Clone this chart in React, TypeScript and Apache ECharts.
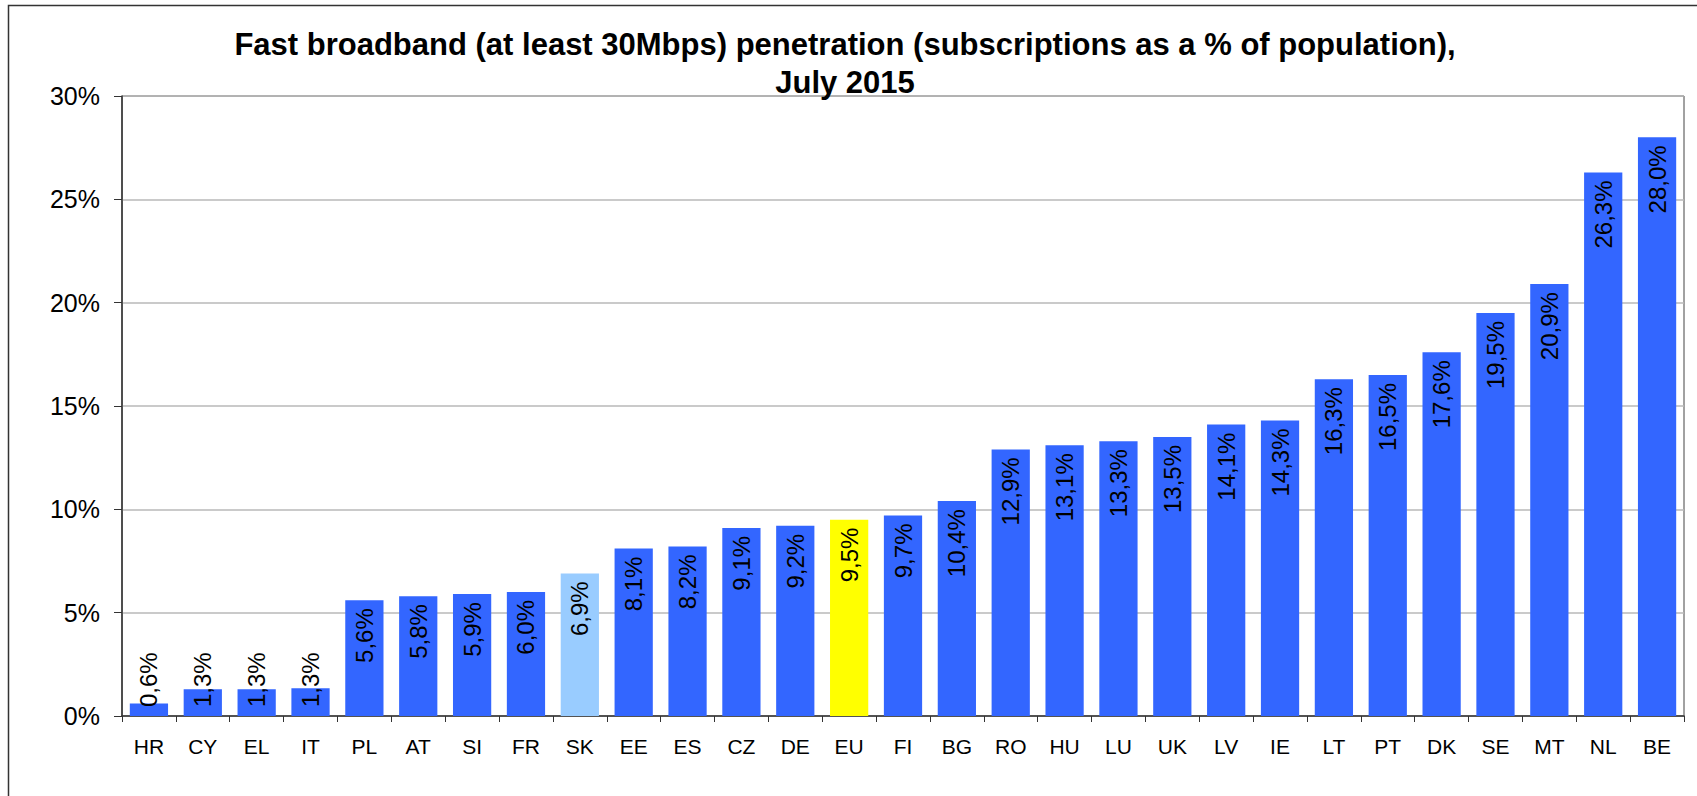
import React, { useEffect, useRef } from "react";
import * as echarts from "echarts";

const categories = ["HR","CY","EL","IT","PL","AT","SI","FR","SK","EE","ES","CZ","DE","EU","FI","BG","RO","HU","LU","UK","LV","IE","LT","PT","DK","SE","MT","NL","BE"];
const values = [0.6,1.3,1.3,1.34,5.6,5.8,5.9,6.0,6.9,8.1,8.2,9.1,9.2,9.5,9.7,10.4,12.9,13.1,13.3,13.5,14.1,14.3,16.3,16.5,17.6,19.5,20.9,26.3,28.0];
const yTicks = [0, 5, 10, 15, 20, 25, 30];
const titleLines = ["Fast broadband (at least 30Mbps) penetration (subscriptions as a % of population),", "July 2015"];

const BLUE = "#3366FF";
const highlight: Record<string, string> = { EU: "#FFFF00", SK: "#99CCFF" };
const smallBars = ["HR", "CY", "EL", "IT"];

export default function App() {
  const ref = useRef<HTMLDivElement>(null);
  useEffect(() => {
    if (!ref.current) return;
    const chart = echarts.init(ref.current, undefined, { renderer: "svg" });
    const font = "'Liberation Sans', Arial, sans-serif";
    const data = categories.map((c, i) => {
      const small = smallBars.includes(c);
      return {
        value: values[i],
        itemStyle: { color: highlight[c] || BLUE },
        label: small
          ? { position: "insideBottom", align: "left", distance: 9 }
          : { position: "insideTop", align: "right", distance: 8 },
      };
    });
    chart.setOption({
      animation: false,
      backgroundColor: "#fff",
      title: {
        text: titleLines.join("\n"),
        left: 845,
        top: 25,
        textAlign: "center",
        padding: 0,
        textStyle: { fontFamily: font, fontSize: 31, fontWeight: "bold", color: "#000", lineHeight: 38 },
      },
      graphic: [
        {
          type: "rect",
          shape: { x: 8.5, y: 5.5, width: 1720, height: 820 },
          style: { fill: "none", stroke: "#333", lineWidth: 1.5 },
          silent: true,
        },
      ],
      grid: {
        left: 122,
        right: 13,
        top: 96,
        bottom: 80,
        show: true,
        borderColor: "#444",
        borderWidth: 1,
        backgroundColor: "transparent",
      },
      xAxis: {
        type: "category",
        data: categories,
        axisLine: { lineStyle: { color: "#333", width: 1.5 } },
        axisTick: { show: true, length: 6, lineStyle: { color: "#333" } },
        axisLabel: { fontFamily: font, fontSize: 21, color: "#000", margin: 20 },
      },
      yAxis: {
        type: "value",
        min: 0,
        max: 30,
        interval: 5,
        axisLine: { show: true, lineStyle: { color: "#333", width: 1.5 } },
        axisTick: { show: true, length: 8, lineStyle: { color: "#333" } },
        splitLine: { lineStyle: { color: "#B8B8B8", width: 1.5 } },
        axisLabel: {
          fontFamily: font,
          fontSize: 25,
          color: "#000",
          margin: 22,
          formatter: (v: number) => (yTicks.includes(v) ? v + "%" : ""),
        },
      },
      series: [
        {
          type: "bar",
          data,
          barCategoryGap: "29%",
          label: {
            show: true,
            rotate: 90,
            verticalAlign: "middle",
            fontFamily: font,
            fontSize: 24,
            color: "#000",
            formatter: (p: any) => p.value.toFixed(1).replace(".", ",") + "%",
          },
        },
      ],
    });
    return () => chart.dispose();
  }, []);
  return <div ref={ref} style={{ position: "absolute", left: 0, top: 0, width: 1697, height: 796 }} />;
}
